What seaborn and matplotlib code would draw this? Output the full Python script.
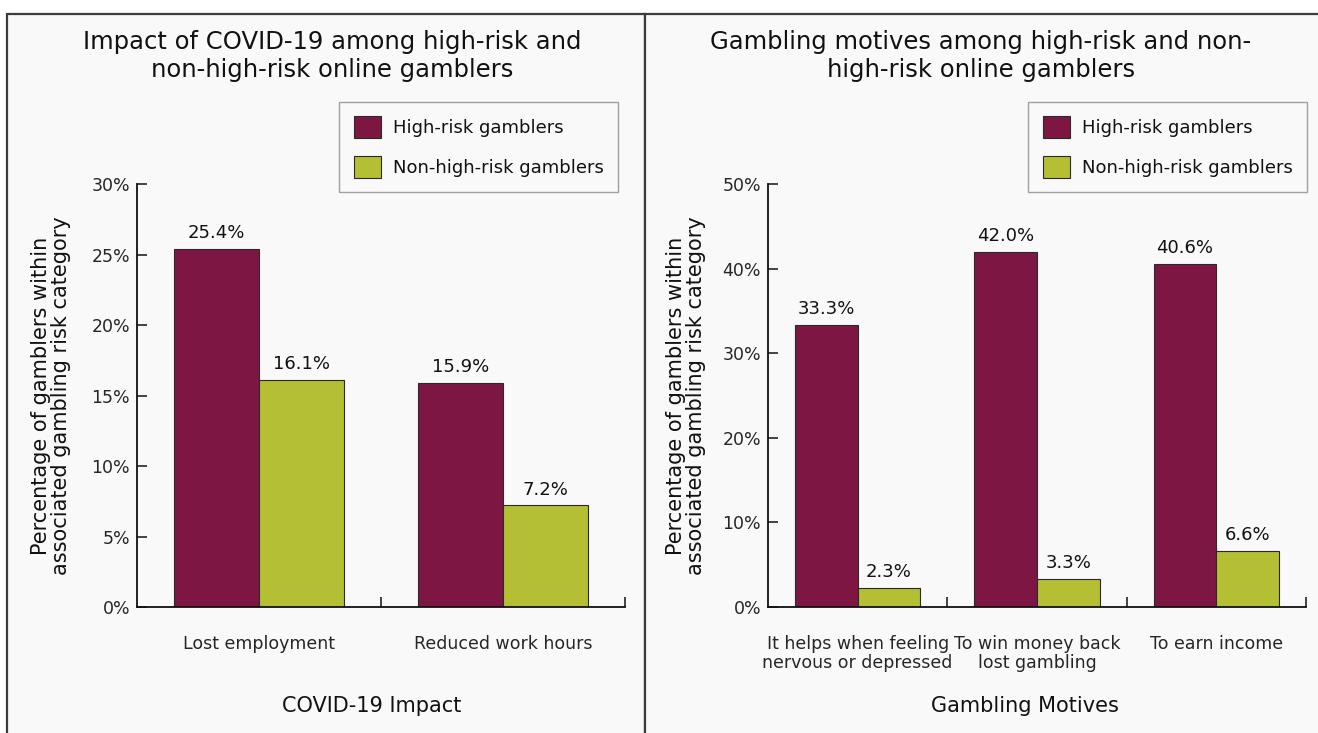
import matplotlib
matplotlib.use("Agg")
import matplotlib.pyplot as plt
import matplotlib.patches as mpatches
import numpy as np
import pandas as pd
import seaborn as sns

# ---- data ----
covid_categories = ["Lost employment", "Reduced work hours"]
covid_high = [25.4, 15.9]
covid_non = [16.1, 7.2]

motive_categories = ["It helps when feeling\nnervous or depressed",
                     "To win money back\nlost gambling",
                     "To earn income"]
motive_high = [33.3, 42.0, 40.6]
motive_non = [2.3, 3.3, 6.6]

groups = ["High-risk gamblers", "Non-high-risk gamblers"]
colors = ["#7d1642", "#b4bf34"]

covid_ticks = [0, 5, 10, 15, 20, 25, 30]
motive_ticks = [0, 10, 20, 30, 40, 50]

sns.set_style("white")
plt.rcParams["font.family"] = ["DejaVu Sans"]

W, H = 1318, 733
fig = plt.figure(figsize=(W / 100, H / 100), dpi=100)
fig.patch.set_facecolor("white")

panel_bg = "#f9f9f9"
border = "#3c3c3c"
# panel frames
fig.patches.append(mpatches.Rectangle((7 / W, -0.05), (645 - 7) / W, (733 - 14) / H + 0.05,
                                      transform=fig.transFigure, facecolor=panel_bg,
                                      edgecolor=border, lw=1.6, zorder=-5))
fig.patches.append(mpatches.Rectangle((645 / W, -0.05), 0.6, (733 - 14) / H + 0.05,
                                      transform=fig.transFigure, facecolor=panel_bg,
                                      edgecolor=border, lw=1.6, zorder=-5))


def make_df(cats, high, non):
    rows = []
    for c, h, n in zip(cats, high, non):
        rows.append({"cat": c, "grp": groups[0], "val": h})
        rows.append({"cat": c, "grp": groups[1], "val": n})
    return pd.DataFrame(rows)


def draw(ax, cats, high, non, ticks, xlabel, legend_anchor, xlab_pos, ylab_x):
    df = make_df(cats, high, non)
    sns.barplot(data=df, x="cat", y="val", hue="grp", order=cats, hue_order=groups,
                palette=colors, width=0.7, edgecolor="#2a2a2a", linewidth=0.8,
                saturation=1, ax=ax, errorbar=None)
    ax.set_facecolor("none")
    n = len(cats)
    ax.set_xlim(-0.5, n - 0.5)
    ax.set_ylim(0, ticks[-1])
    ax.set_yticks(ticks)
    ax.set_yticklabels([f"{t}%" for t in ticks], fontsize=12.5)
    ax.set_xticks(range(n))
    ax.set_xticklabels(cats, fontsize=12.5, linespacing=1.1)
    ax.set_xticks(np.arange(0.5, n, 1.0), minor=True)
    ax.tick_params(axis="x", which="major", bottom=True, length=0, pad=20)
    ax.tick_params(axis="x", which="minor", bottom=True, direction="in", length=7,
                   width=1.1, color="#111")
    ax.tick_params(axis="y", which="major", left=True, direction="in", length=7,
                   width=1.1, color="#111", pad=5)
    for s in ["top", "right"]:
        ax.spines[s].set_visible(False)
    for s in ["left", "bottom"]:
        ax.spines[s].set_color("#111")
        ax.spines[s].set_linewidth(1.3)
    for cont in ax.containers:
        ax.bar_label(cont, fmt="%.1f%%", padding=5, fontsize=13, color="#111")
    ax.set_xlabel(xlabel, fontsize=15, color="#111")
    ax.xaxis.set_label_coords(*xlab_pos)
    ax.xaxis.label.set_va("center")
    ax.set_ylabel("Percentage of gamblers within\nassociated gambling risk category",
                  fontsize=15, color="#111", linespacing=1.0)
    ax.yaxis.set_label_coords(ylab_x, 0.5)
    ax.yaxis.label.set_va("center")
    leg = ax.legend(loc="upper right", bbox_to_anchor=legend_anchor, bbox_transform=ax.transAxes,
                    borderaxespad=0, fontsize=13, frameon=True, fancybox=False,
                    handlelength=1.5, handleheight=1.5, labelspacing=0.95,
                    handletextpad=0.65, borderpad=0.8)
    leg.get_frame().set_edgecolor("#8a8a8a")
    leg.get_frame().set_facecolor(panel_bg)
    leg.get_frame().set_linewidth(1.0)
    for t in leg.get_texts():
        t.set_color("#111")


ax1 = fig.add_axes([137 / W, (733 - 607) / H, (625 - 137) / W, (607 - 184) / H])
ax2 = fig.add_axes([768 / W, (733 - 607) / H, (1306 - 768) / W, (607 - 184) / H])

draw(ax1, covid_categories, covid_high, covid_non, covid_ticks, "COVID-19 Impact",
     ((618 - 137) / 488, (607 - 102) / 423), ((372 - 137) / 488, (607 - 706) / 423),
     (51 - 137) / 488)
draw(ax2, motive_categories, motive_high, motive_non, motive_ticks, "Gambling Motives",
     ((1307 - 768) / 538, (607 - 102) / 423), ((1025 - 768) / 538, (607 - 706) / 423),
     (686 - 768) / 538)

fig.text(332 / W, (733 - 56) / H, "Impact of COVID-19 among high-risk and\nnon-high-risk online gamblers",
         ha="center", va="center", fontsize=17.5, color="#111", linespacing=1.2)
fig.text(981 / W, (733 - 56) / H, "Gambling motives among high-risk and non-\nhigh-risk online gamblers",
         ha="center", va="center", fontsize=17.5, color="#111", linespacing=1.2)

fig.savefig("out.png", dpi=100, facecolor="white")
